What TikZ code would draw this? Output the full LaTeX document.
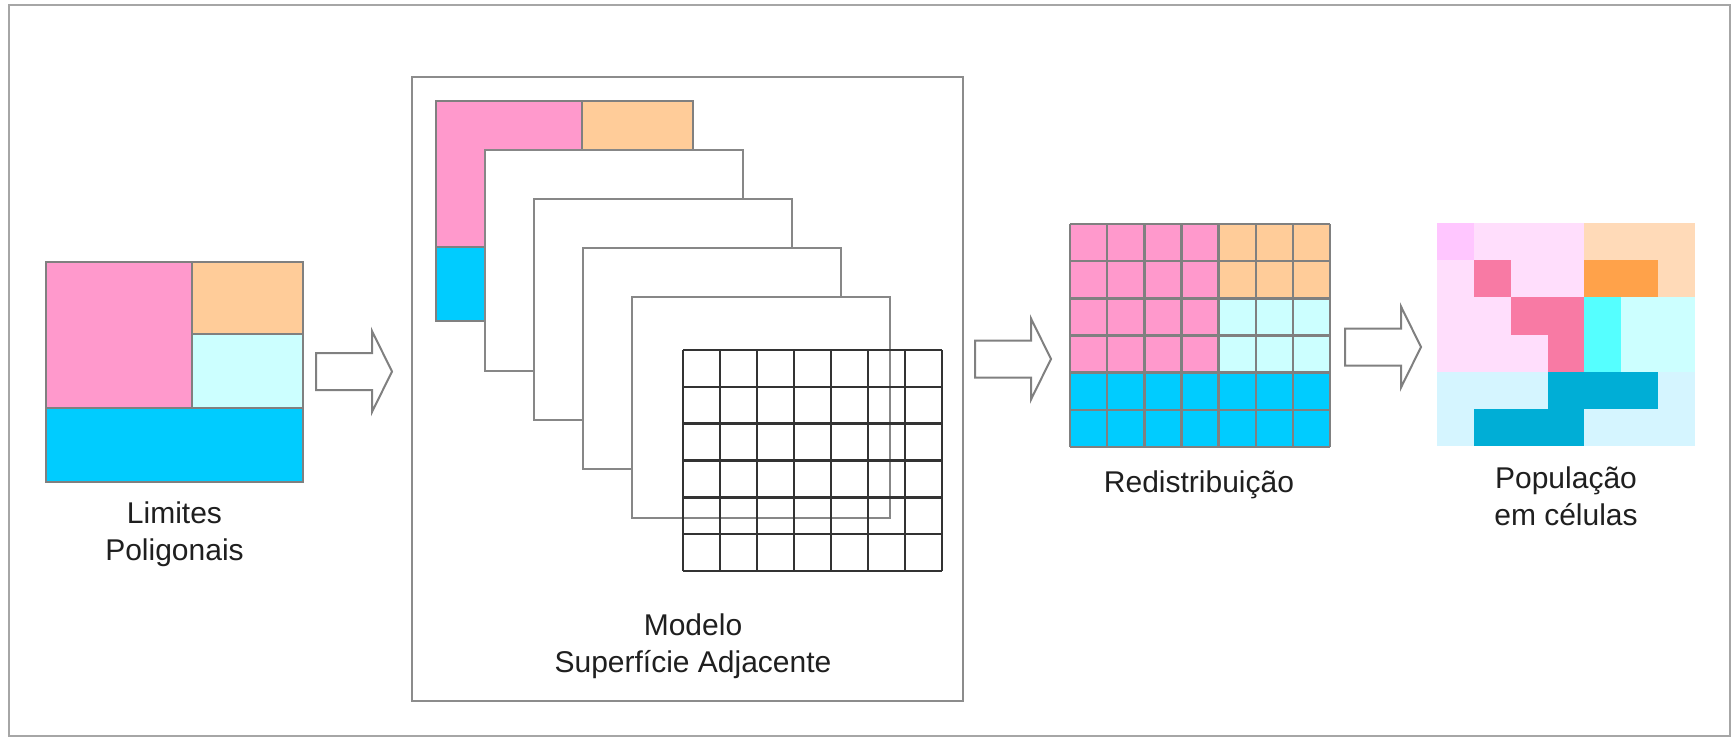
\documentclass[tikz,border=0pt]{standalone}
\usepackage{fontspec}
\setmainfont{Liberation Sans}
\definecolor{pinkA}{HTML}{FF99CC}
\definecolor{peachA}{HTML}{FFCC99}
\definecolor{icecyan}{HTML}{CCFFFF}
\definecolor{skycyan}{HTML}{00CCFF}
\definecolor{popviolet}{HTML}{FFC6FF}
\definecolor{poplight}{HTML}{FFDEFC}
\definecolor{pophot}{HTML}{F87AA4}
\definecolor{poppeach}{HTML}{FFDAB8}
\definecolor{poporange}{HTML}{FFA24A}
\definecolor{popaqua}{HTML}{55FFFF}
\definecolor{popice}{HTML}{CCFFFF}
\definecolor{poppale}{HTML}{D5F5FF}
\definecolor{popdeep}{HTML}{00AED6}
\begin{document}
\begin{tikzpicture}[x=0.75pt,y=-0.75pt,
  frame/.style={draw=black!35,line width=1.6pt},
  panel/.style={draw=black!45,line width=1.5pt},
  region/.style={draw=black!50,line width=1.7pt},
  layer/.style={draw=black!47,fill=white,line width=1.5pt},
  cellgrid/.style={draw=black!80,line width=1.8pt},
  redgrid/.style={draw=black!50,line width=1.8pt},
  arrowline/.style={draw=black!50,fill=white,line width=1.5pt,line join=miter},
  lbl/.style={font=\fontsize{22.5}{27.75}\selectfont,align=center,inner sep=0pt,text=black!88,anchor=north},
  pics/polymap/.style={code={
    \draw[region,fill=pinkA] (0,0) rectangle (146,146);
    \draw[region,fill=peachA] (146,0) rectangle (257,72);
    \draw[region,fill=icecyan] (146,72) rectangle (257,146);
    \draw[region,fill=skycyan] (0,146) rectangle (257,220);
  }},
  pics/blockarrow/.style={code={
    \draw[arrowline] (0,-18.5) -- (56,-18.5) -- (56,-40.5) -- (76,0)
      -- (56,40.5) -- (56,18.5) -- (0,18.5) -- cycle;
  }}]
\useasboundingbox (0,0) rectangle (1734,738);
\fill[white] (0,0) rectangle (1734,738);
\draw[frame] (9,5) rectangle (1730,736);

% polygon boundaries
\pic (polys) at (46,262) {polymap};
\node[lbl] (limites) at (174.5,501) {Limites\\Poligonais};

% adjacent surface model: stacked layers ending in a cell grid
\draw[panel] (412,77) rectangle (963,701);
\pic (layerA) at (436,101) {polymap};
\foreach \lx/\ly in {485/150,534/199,583/248,632/297}
  \draw[layer] (\lx,\ly) rectangle ++(258,221);
\foreach \i in {0,...,7}
  \draw[cellgrid] ({683+\i*37},350) -- ({683+\i*37},571);
\foreach \j in {0,...,6}
  \draw[cellgrid] (683,{350+\j*36.833}) -- (942,{350+\j*36.833});
\node[lbl] (modelo) at (693,613) {Modelo\\Superfície Adjacente};

% redistribution onto cells
\fill[pinkA] (1070,224) rectangle (1218.57,372.67);
\fill[peachA] (1218.57,224) rectangle (1330,298.33);
\fill[icecyan] (1218.57,298.33) rectangle (1330,372.67);
\fill[skycyan] (1070,372.67) rectangle (1330,447);
\foreach \i in {0,...,7}
  \draw[redgrid] ({1070+\i*37.143},224) -- ({1070+\i*37.143},447);
\foreach \j in {0,...,6}
  \draw[redgrid] (1070,{224+\j*37.167}) -- (1330,{224+\j*37.167});
\node[lbl] (redist) at (1199,470.5) {Redistribuição};

% population per cell
\foreach \row [count=\j from 0] in {
    {popviolet,poplight,poplight,poplight,poppeach,poppeach,poppeach},
    {poplight,pophot,poplight,poplight,poporange,poporange,poppeach},
    {poplight,poplight,pophot,pophot,popaqua,popice,popice},
    {poplight,poplight,poplight,pophot,popaqua,popice,popice},
    {poppale,poppale,poppale,popdeep,popdeep,popdeep,poppale},
    {poppale,popdeep,popdeep,popdeep,poppale,poppale,poppale}}
  \foreach \c [count=\i from 0] in \row
    \fill[\c] ({1437+\i*36.857},{223+\j*37.167}) rectangle
      ({1437+(\i+1)*36.857+0.4},{223+(\j+1)*37.167+0.4});
\node[lbl] (popcel) at (1566,466.5) {População\\em células};

% process arrows
\pic (arrowA) at (316,371.5) {blockarrow};
\pic (arrowB) at (975,359) {blockarrow};
\pic (arrowC) at (1345,347) {blockarrow};
\end{tikzpicture}
\end{document}
